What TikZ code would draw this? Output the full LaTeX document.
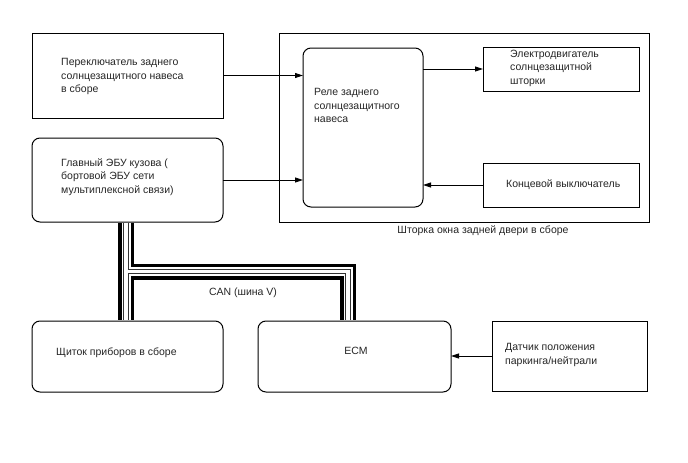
\documentclass[tikz,border=0pt]{standalone}
\usepackage{fontspec}
\setmainfont{Liberation Sans}
\usetikzlibrary{arrows.meta}
\begin{document}
\begin{tikzpicture}[x=1pt,y=-1pt,
  box/.style={draw=black, line width=1pt, anchor=north west, inner sep=0pt, outer sep=0pt},
  rbox/.style={box, rounded corners=8pt},
  txt/.style={anchor=north west, inner sep=0pt, align=left, font=\fontsize{10.5}{13.5}\selectfont, text=black!85},
  arr/.style={line width=0.9pt, -{Triangle[length=8pt,width=5pt]}},
  ]
\useasboundingbox[fill=white] (0,0) rectangle (688,463);

% boxes
\node[box,  minimum width=191pt, minimum height=85pt]  (sw)     at (32,33)  {};
\node[rbox, minimum width=191pt, minimum height=84pt]  (ecu)    at (32,138) {};
\node[box,  minimum width=370pt, minimum height=189pt] (door)   at (279,33) {};
\node[rbox, minimum width=120pt, minimum height=159pt] (relay)  at (303,48) {};
\node[box,  minimum width=156pt, minimum height=44pt]  (motor)  at (483,47) {};
\node[box,  minimum width=156pt, minimum height=44pt]  (limit)  at (483,163) {};
\node[rbox, minimum width=191pt, minimum height=71pt]  (dash)   at (32,321) {};
\node[rbox, minimum width=193pt, minimum height=71pt]  (ecm)    at (258,321) {};
\node[box,  minimum width=155pt, minimum height=70pt]  (sensor) at (492,321) {};

% texts
\node[txt] (tsw) at (61,58.2) {Переключатель заднего\\солнцезащитного навеса\\в сборе};
\node[txt] (tecu) at (61,158.5) {Главный ЭБУ кузова (\\бортовой ЭБУ сети\\мультиплексной связи)};
\node[txt] (trelay) at (314,88.5) {Реле заднего\\солнцезащитного\\навеса};
\node[txt] (tmotor) at (510,49.5) {Электродвигатель\\солнцезащитной\\шторки};
\node[txt] (tlimit) at (506,179.5) {Концевой выключатель};
\node[txt, anchor=center] (tdoor) at (483,231) {Шторка окна задней двери в сборе};
\node[txt] (tdash) at (56,347.5) {Щиток приборов в сборе};
\node[txt, anchor=center] (tecm) at (356,351) {ECM};
\node[txt] (tsensor) at (505,343.2) {Датчик положения\\паркинга/нейтрали};
\node[txt, anchor=center] (tcan) at (243,293) {CAN (шина V)};

% arrows
\draw[arr] (sw.east) -- (sw.east -| relay.west);
\draw[arr] (ecu.east) -- (ecu.east -| relay.west);
\draw[arr] (relay.east |- motor.west) -- (motor.west);
\draw[arr] (limit.west) -- (limit.west -| relay.east);
\draw[arr] (sensor.west) -- (sensor.west -| ecm.east);

% CAN bus
\coordinate (bTop) at ([xshift=94pt,yshift=-0.6pt]ecu.south west);
\coordinate (bBot) at ([xshift=94pt,yshift=0.6pt]dash.north west);
\coordinate (bJ) at ([xshift=94pt,yshift=-49.5pt]ecu.south west);
\coordinate (eTop) at ([xshift=90pt,yshift=0.6pt]ecm.north west);
\foreach \w/\c in {16/black, 9/white, 5.5/black!80, 3.5/white} {
  \draw[line width=\w pt, \c] (bTop) -- (bBot);
  \draw[line width=\w pt, \c] (bJ) -- (bJ -| eTop) -- (eTop);
}
\end{tikzpicture}
\end{document}
